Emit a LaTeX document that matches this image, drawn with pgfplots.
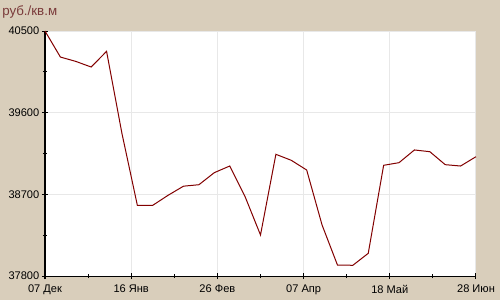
\documentclass[border=0pt]{standalone}
\usepackage{pgfplots}
\pgfplotsset{compat=1.18}
\usepackage{fontspec}
\setmainfont{Liberation Sans}
\definecolor{bgbeige}{RGB}{217,206,187}
\definecolor{gridgray}{RGB}{232,232,232}
\definecolor{linered}{RGB}{130,0,0}
\definecolor{titlered}{RGB}{122,58,58}
\begin{document}
\begin{tikzpicture}
\fill[bgbeige] (-33.75pt,-18pt) rectangle (341.25pt,207pt);
\node[anchor=west, inner sep=0pt, text=titlered, font=\fontsize{10}{12}\selectfont] at (-32.25pt,198.3pt) {руб./кв.м};
\begin{axis}[
  at={(0,0)}, anchor=south west,
  scale only axis, width=323.25pt, height=183.75pt,
  xmin=0, xmax=28, ymin=37800, ymax=40500,
  axis x line*=bottom, axis y line*=left,
  axis line style={black, line width=0.75pt},
  axis background/.style={fill=white},
  xtick={0,5.6,11.2,16.8,22.4,28},
  xticklabels={07 Дек,16 Янв,26 Фев,07 Апр,18 Май,28 Июн},
  ytick={37800,38700,39600,40500},
  scaled y ticks=false,
  yticklabel style={/pgf/number format/fixed, /pgf/number format/precision=0, xshift=1.5pt},
  xticklabel style={yshift=-1pt},
  minor x tick num=1, minor y tick num=1,
  grid=major,
  major grid style={gridgray, line width=0.75pt},
  tick align=center,
  major tick length=4.5pt, minor tick length=3pt,
  tick style={black, line width=0.75pt},
  ticklabel style={font=\fontsize{8.3}{10}\selectfont, text=black},
  /pgf/number format/assume math mode=true,
  /pgf/number format/1000 sep={},
  clip=false,
]
\addplot[linered, line width=0.75pt, mark=none] coordinates {
(0,40500) (1,40213) (2,40165) (3,40103) (4,40276) (5,39370) (6,38579)
(7,38579) (8,38690) (9,38790) (10,38806) (11,38939) (12,39012) (13,38674)
(14,38252) (15,39141) (16,39075) (17,38968) (18,38362) (19,37921) (20,37918)
(21,38050) (22,39020) (23,39049) (24,39189) (25,39170) (26,39027) (27,39012)
(28,39115)
};
\end{axis}
\end{tikzpicture}
\end{document}
